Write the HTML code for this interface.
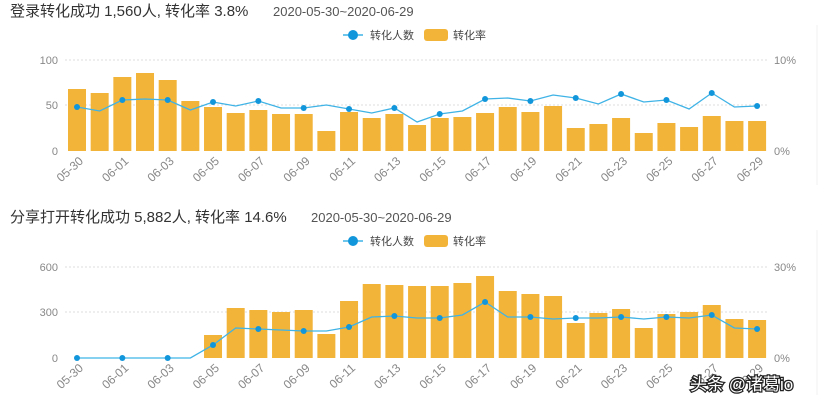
<!DOCTYPE html>
<html><head><meta charset="utf-8"><style>
html,body{margin:0;padding:0;background:#fff;width:830px;height:412px;overflow:hidden}
svg{display:block;font-family:"Liberation Sans","Noto Sans CJK SC",sans-serif}
</style></head><body>
<svg id="s" width="830" height="412" xmlns="http://www.w3.org/2000/svg">
<line x1="817" y1="25" x2="817" y2="185" stroke="#f0f0f0"/>
<line x1="817" y1="230" x2="817" y2="395" stroke="#f0f0f0"/>
<text x="10" y="16" font-size="15" fill="#333">登录转化成功 1,560人, 转化率 3.8%</text>
<text x="273" y="16" font-size="13" fill="#555">2020-05-30~2020-06-29</text>
<text x="10" y="222" font-size="15" fill="#333">分享打开转化成功 5,882人, 转化率 14.6%</text>
<text x="311" y="222" font-size="13" fill="#555">2020-05-30~2020-06-29</text>
<g id="g"></g>
<text x="690" y="390" font-size="17" fill="#fff" stroke="#222" stroke-width="2.5" paint-order="stroke">头条 @诸葛io</text>
</svg>
<script>
const g=document.getElementById('g');let h='';
const lbl=['05-30','06-01','06-03','06-05','06-07','06-09','06-11','06-13','06-15','06-17','06-19','06-21','06-23','06-25','06-27','06-29'];
function chart(o){
 const {top,mid,base,bars,line,ly,lt,mt,rt}=o;
 h+=`<line x1="65" y1="${top}" x2="768" y2="${top}" stroke="#ddd" stroke-dasharray="2,2"/>`;
 h+=`<line x1="65" y1="${mid}" x2="768" y2="${mid}" stroke="#ddd" stroke-dasharray="2,2"/>`;
 h+=`<text x="58" y="${top+4}" font-size="11" fill="#888" text-anchor="end">${lt}</text>`;
 h+=`<text x="58" y="${mid+4}" font-size="11" fill="#888" text-anchor="end">${mt}</text>`;
 h+=`<text x="58" y="${base+4}" font-size="11" fill="#888" text-anchor="end">0</text>`;
 h+=`<text x="774" y="${top+4}" font-size="11" fill="#888">${rt}</text>`;
 h+=`<text x="774" y="${base+4}" font-size="11" fill="#888">0%</text>`;
 for(let i=0;i<31;i++){const cx=77+i*22.67;const t=bars[i];if(t<base)h+=`<rect x="${cx-9}" y="${t}" width="18" height="${base-t}" fill="#f3b43a"/>`;}
 let p=line.map((y,i)=>`${(77+i*22.67).toFixed(1)},${y}`).join(' ');
 h+=`<polyline points="${p}" fill="none" stroke="#3fb3e6" stroke-width="1.3"/>`;
 for(let i=0;i<31;i+=2)h+=`<circle cx="${77+i*22.67}" cy="${line[i]}" r="3" fill="#1296db"/>`;
 lbl.forEach((l,k)=>{const cx=77+k*2*22.67+7;h+=`<text x="${cx}" y="${base+11}" font-size="12" fill="#888" text-anchor="end" transform="rotate(-42 ${cx} ${base+11})">${l}</text>`;});
 h+=`<line x1="343" y1="${ly}" x2="363" y2="${ly}" stroke="#3fb3e6" stroke-width="1.5"/><circle cx="353" cy="${ly}" r="5" fill="#1296db"/>`;
 h+=`<text x="370" y="${ly+4}" font-size="11" fill="#444">转化人数</text>`;
 h+=`<rect x="424" y="${ly-6}" width="24" height="12" rx="3" fill="#f3b43a"/>`;
 h+=`<text x="453" y="${ly+4}" font-size="11" fill="#444">转化率</text>`;
}
chart({top:60,mid:105,base:151,ly:35,lt:'100',mt:'50',rt:'10%',
bars:[89,93,77,73,80,101,107,113,110,114,114,131,112,118,114,125,118,117,113,107,112,106,128,124,118,133,123,127,116,121,121],
line:[107,111,100,99,100,110,102,106,101,108,108,105,109,113,108,122,114,111,99,98,101,95,98,104,94,102,100,109,93,107,106]});
chart({top:267,mid:312,base:358,ly:241,lt:'600',mt:'300',rt:'30%',
bars:[999,999,999,999,999,999,335,308,310,312,310,334,301,284,285,286,286,283,276,291,294,296,323,313,309,328,314,312,305,319,320],
line:[358,358,358,358,358,358,345,328,329,330,331,331,327,317,316,318,318,315,302,317,317,319,318,318,317,319,317,318,315,328,329]});
g.innerHTML=h;
</script>
</body></html>
